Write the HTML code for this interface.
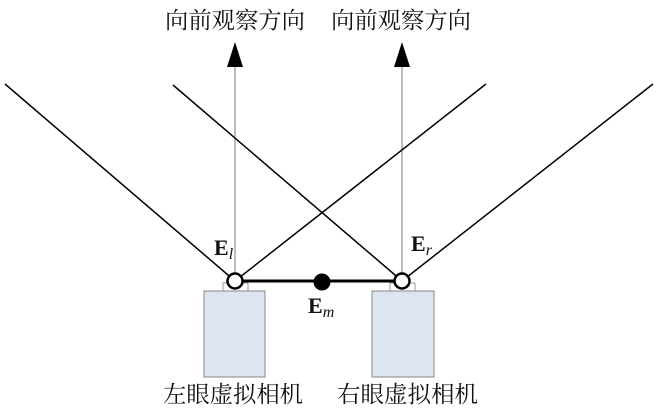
<!DOCTYPE html>
<html><head><meta charset="utf-8"><style>
body{margin:0;background:#fff;width:660px;height:416px;overflow:hidden}
svg{display:block}
.cn{font-family:"Liberation Serif","Noto Serif CJK SC",serif;font-size:23px;fill:#111}
.lb{font-family:"Liberation Serif",serif;font-size:22px;font-weight:bold;fill:#111}
</style></head><body>
<svg width="660" height="416" viewBox="0 0 660 416">
<text class="cn" x="165" y="28" textLength="140" lengthAdjust="spacingAndGlyphs">向前观察方向</text>
<text class="cn" x="331" y="28" textLength="140" lengthAdjust="spacingAndGlyphs">向前观察方向</text>
<line x1="235" y1="67" x2="235" y2="281" stroke="#999" stroke-width="1.3"/>
<line x1="402" y1="67" x2="402" y2="281" stroke="#999" stroke-width="1.3"/>
<polygon points="235,42 227,67 243,67" fill="#000"/>
<polygon points="402,42 394,67 410,67" fill="#000"/>
<g stroke="#000" stroke-width="1.5">
<line x1="235" y1="281" x2="5" y2="84"/>
<line x1="235" y1="281" x2="486" y2="84"/>
<line x1="402" y1="281" x2="173" y2="85"/>
<line x1="402" y1="281" x2="653" y2="84"/>
</g>
<rect x="223" y="283" width="25" height="8" fill="#fff" stroke="#999"/>
<rect x="390" y="283" width="25" height="8" fill="#fff" stroke="#999"/>
<rect x="204" y="291" width="61" height="86" fill="#dde5f0" stroke="#888"/>
<rect x="372" y="291" width="62" height="86" fill="#dde5f0" stroke="#888"/>
<line x1="235" y1="281" x2="402" y2="281" stroke="#000" stroke-width="3"/>
<circle cx="235" cy="281" r="7.5" fill="#fff" stroke="#000" stroke-width="2.5"/>
<circle cx="402" cy="281" r="7.5" fill="#fff" stroke="#000" stroke-width="2.5"/>
<circle cx="322" cy="282" r="8.5" fill="#000"/>
<text class="lb" x="214" y="255">E<tspan font-style="italic" font-weight="normal" font-size="16" dy="4">l</tspan></text>
<text class="lb" x="411" y="251">E<tspan font-style="italic" font-weight="normal" font-size="16" dy="4">r</tspan></text>
<text class="lb" x="308" y="313">E<tspan font-style="italic" font-weight="normal" font-size="16" dy="4">m</tspan></text>
<text class="cn" x="163" y="402" textLength="140" lengthAdjust="spacingAndGlyphs">左眼虚拟相机</text>
<text class="cn" x="337" y="402" textLength="141" lengthAdjust="spacingAndGlyphs">右眼虚拟相机</text>
</svg>
</body></html>
